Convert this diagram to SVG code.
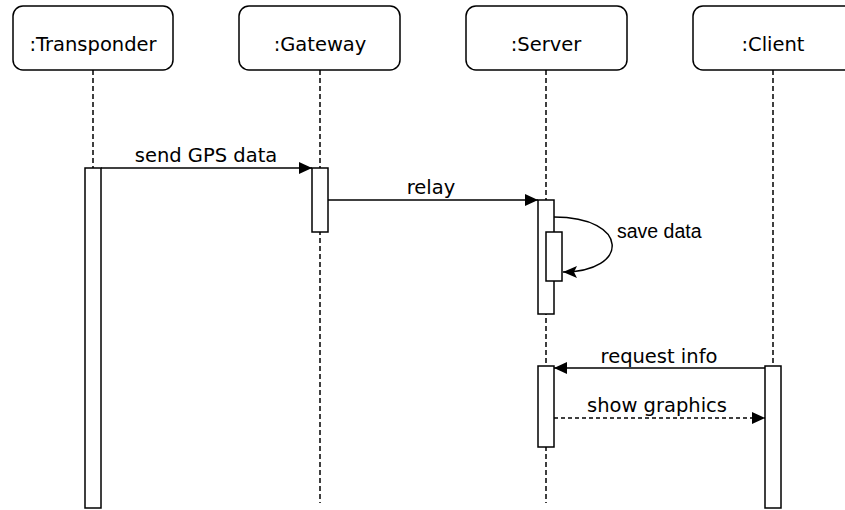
<svg xmlns="http://www.w3.org/2000/svg" width="845" height="510" viewBox="0 0 845 510">
<defs>
<style>
.box{fill:#fff;stroke:#000;stroke-width:1.5}
.act{fill:#fff;stroke:#000;stroke-width:1.5}
.life{fill:none;stroke:#000;stroke-width:1.5;stroke-dasharray:5 3}
.msg{fill:none;stroke:#000;stroke-width:1.5}
.ret{fill:none;stroke:#000;stroke-width:1.5;stroke-dasharray:4 3}
.t{font-family:"DejaVu Sans",Verdana,sans-serif;font-size:19.5px;fill:#000;text-anchor:middle}
.ts{font-family:"Liberation Sans",Arial,sans-serif;font-size:19.5px;fill:#000}
</style>
<marker id="ah" markerWidth="13" markerHeight="12" refX="13" refY="6" orient="auto" markerUnits="userSpaceOnUse">
<path d="M0,0 L13,6 L0,12 Z" fill="#000"/>
</marker>
<marker id="ahc" markerWidth="14" markerHeight="12" refX="14" refY="6" orient="auto" markerUnits="userSpaceOnUse">
<path d="M0,0 L14,6 L0,12 L3,6 Z" fill="#000"/>
</marker>
</defs>
<g id="lifelines">
<line class="life" x1="93" y1="70" x2="93" y2="168"/>
<line class="life" x1="320" y1="70" x2="320" y2="503"/>
<line class="life" x1="546" y1="70" x2="546" y2="503"/>
<line class="life" x1="773" y1="70" x2="773" y2="366"/>
</g>
<g id="transponder">
<rect class="box" x="13" y="6" width="160" height="64" rx="10"/>
<text class="t" x="93" y="51">:Transponder</text>
<rect class="act" x="85" y="168" width="16" height="340"/>
</g>
<g id="gateway">
<rect class="box" x="239" y="6" width="161" height="64" rx="10"/>
<text class="t" x="320" y="51">:Gateway</text>
<rect class="act" x="312" y="168" width="16" height="64"/>
</g>
<g id="server">
<rect class="box" x="466" y="6" width="161" height="64" rx="10"/>
<text class="t" x="546" y="51">:Server</text>
<rect class="act" x="538" y="200" width="16" height="114"/>
<rect class="act" x="546" y="232" width="16" height="49"/>
<rect class="act" x="538" y="366" width="16" height="81"/>
</g>
<g id="client">
<rect class="box" x="693" y="6" width="161" height="64" rx="10"/>
<text class="t" x="773" y="51">:Client</text>
<rect class="act" x="765" y="366" width="16" height="142"/>
</g>
<g id="connectors">
<line class="msg" x1="101" y1="168" x2="312" y2="168" marker-end="url(#ah)"/>
<text class="t" x="206" y="162">send GPS data</text>
<line class="msg" x1="328" y1="200" x2="538" y2="200" marker-end="url(#ah)"/>
<text class="t" x="431" y="194">relay</text>
<path class="msg" d="M554,217 C630,217 630,272 563,272" marker-end="url(#ahc)"/>
<text class="ts" x="617" y="238">save data</text>
<line class="msg" x1="765" y1="368" x2="554" y2="368" marker-end="url(#ah)"/>
<text class="t" x="659" y="363">request info</text>
<line class="ret" x1="554" y1="418" x2="765" y2="418" marker-end="url(#ah)"/>
<text class="t" x="657" y="412">show graphics</text>
</g>
</svg>
